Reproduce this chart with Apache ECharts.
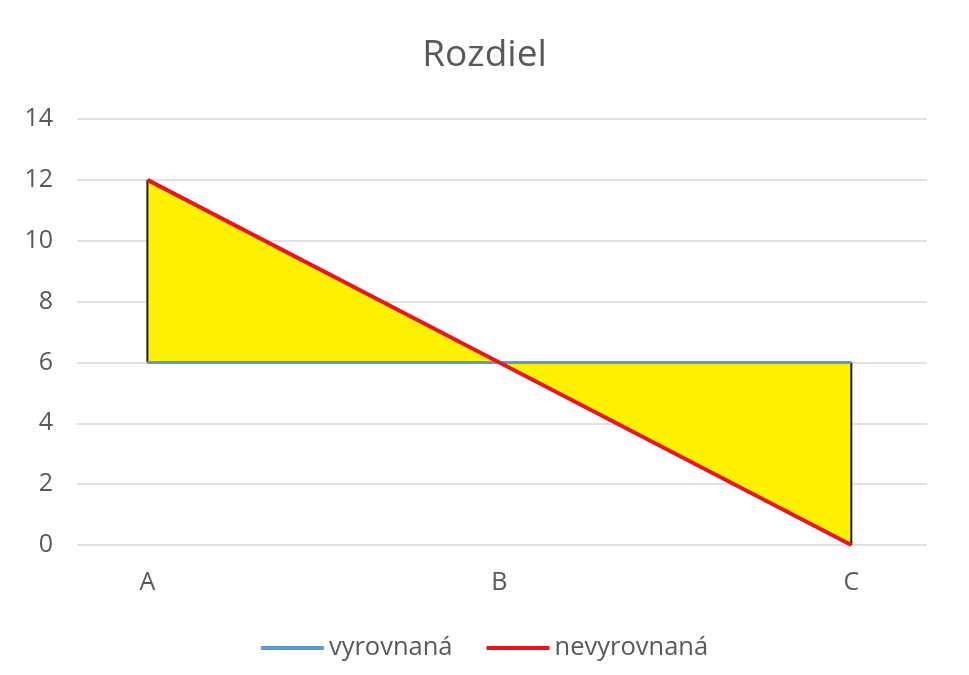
<!DOCTYPE html>
<html><head><meta charset="utf-8">
<script src="https://cdn.jsdelivr.net/npm/echarts@6/dist/echarts.min.js"></script>
<style>html,body{margin:0;padding:0;background:#fff}#c{width:969px;height:675px}</style>
</head><body><div id="c"></div>
<script>
const categories = ['A', 'B', 'C'];
const vyrovnana = [6, 6, 6];
const nevyrovnana = [12, 6, 0];
const seriesNames = ['vyrovnaná', 'nevyrovnaná'];

const idx = categories.map((c, i) => i);
const font = 'Open Sans';
const chart = echarts.init(document.getElementById('c'));

chart.setOption({
  animation: false,
  backgroundColor: '#fff',
  title: {
    text: 'Rozdiel', left: 'center', top: 32,
    textStyle: { fontFamily: font, fontSize: 37, fontWeight: 'normal', color: '#595959' }
  },
  legend: {
    top: 630, left: 'center', itemWidth: 63, itemHeight: 4, itemGap: 34, icon: 'rect',
    data: seriesNames,
    textStyle: { fontFamily: font, fontSize: 25.5, color: '#595959' }
  },
  grid: { left: 77, right: 42, top: 119, bottom: 130 },
  xAxis: {
    type: 'value', min: -0.2, max: 2.215,
    axisLine: { show: false }, axisTick: { show: false }, splitLine: { show: false },
    axisLabel: {
      customValues: idx, margin: 25,
      formatter: v => categories[Math.round(v)],
      fontFamily: font, fontSize: 25, color: '#595959'
    }
  },
  yAxis: {
    type: 'value', min: 0, max: 14, interval: 2,
    axisLine: { show: false }, axisTick: { show: false },
    splitLine: { lineStyle: { color: '#d9d9d9', width: 1.5 } },
    axisLabel: { margin: 24, fontFamily: font, fontSize: 25, color: '#595959' }
  },
  series: [
    {
      type: 'custom', silent: true, z: 1,
      data: idx.map(i => [i, vyrovnana[i], nevyrovnana[i]]),
      encode: { x: 0, y: [1, 2] },
      renderItem: function (params, api) {
        const i = params.dataIndex;
        const n = categories.length;
        const children = [];
        if (i < n - 1) {
          children.push({
            type: 'polygon',
            shape: { points: [
              api.coord([i, nevyrovnana[i]]), api.coord([i + 1, nevyrovnana[i + 1]]),
              api.coord([i + 1, vyrovnana[i + 1]]), api.coord([i, vyrovnana[i]])
            ] },
            style: { fill: '#fff200', stroke: null }
          });
        }
        if (i === 0 || i === n - 1) {
          const p1 = api.coord([i, vyrovnana[i]]);
          const p2 = api.coord([i, nevyrovnana[i]]);
          children.push({
            type: 'line', z2: 5,
            shape: { x1: p1[0], y1: p1[1], x2: p2[0], y2: p2[1] },
            style: { stroke: '#1a1a1a', lineWidth: 2 }
          });
        }
        return { type: 'group', children };
      }
    },
    {
      name: seriesNames[0], type: 'line', z: 3, symbol: 'none',
      data: idx.map(i => [i, vyrovnana[i]]),
      itemStyle: { color: '#5b9bd5' },
      lineStyle: { color: '#5b9bd5', width: 3 }
    },
    {
      name: seriesNames[1], type: 'line', z: 4, symbol: 'none',
      data: idx.map(i => [i, nevyrovnana[i]]),
      itemStyle: { color: '#e8161b' },
      lineStyle: { color: '#e8161b', width: 4 }
    }
  ]
});
</script>
</body></html>
